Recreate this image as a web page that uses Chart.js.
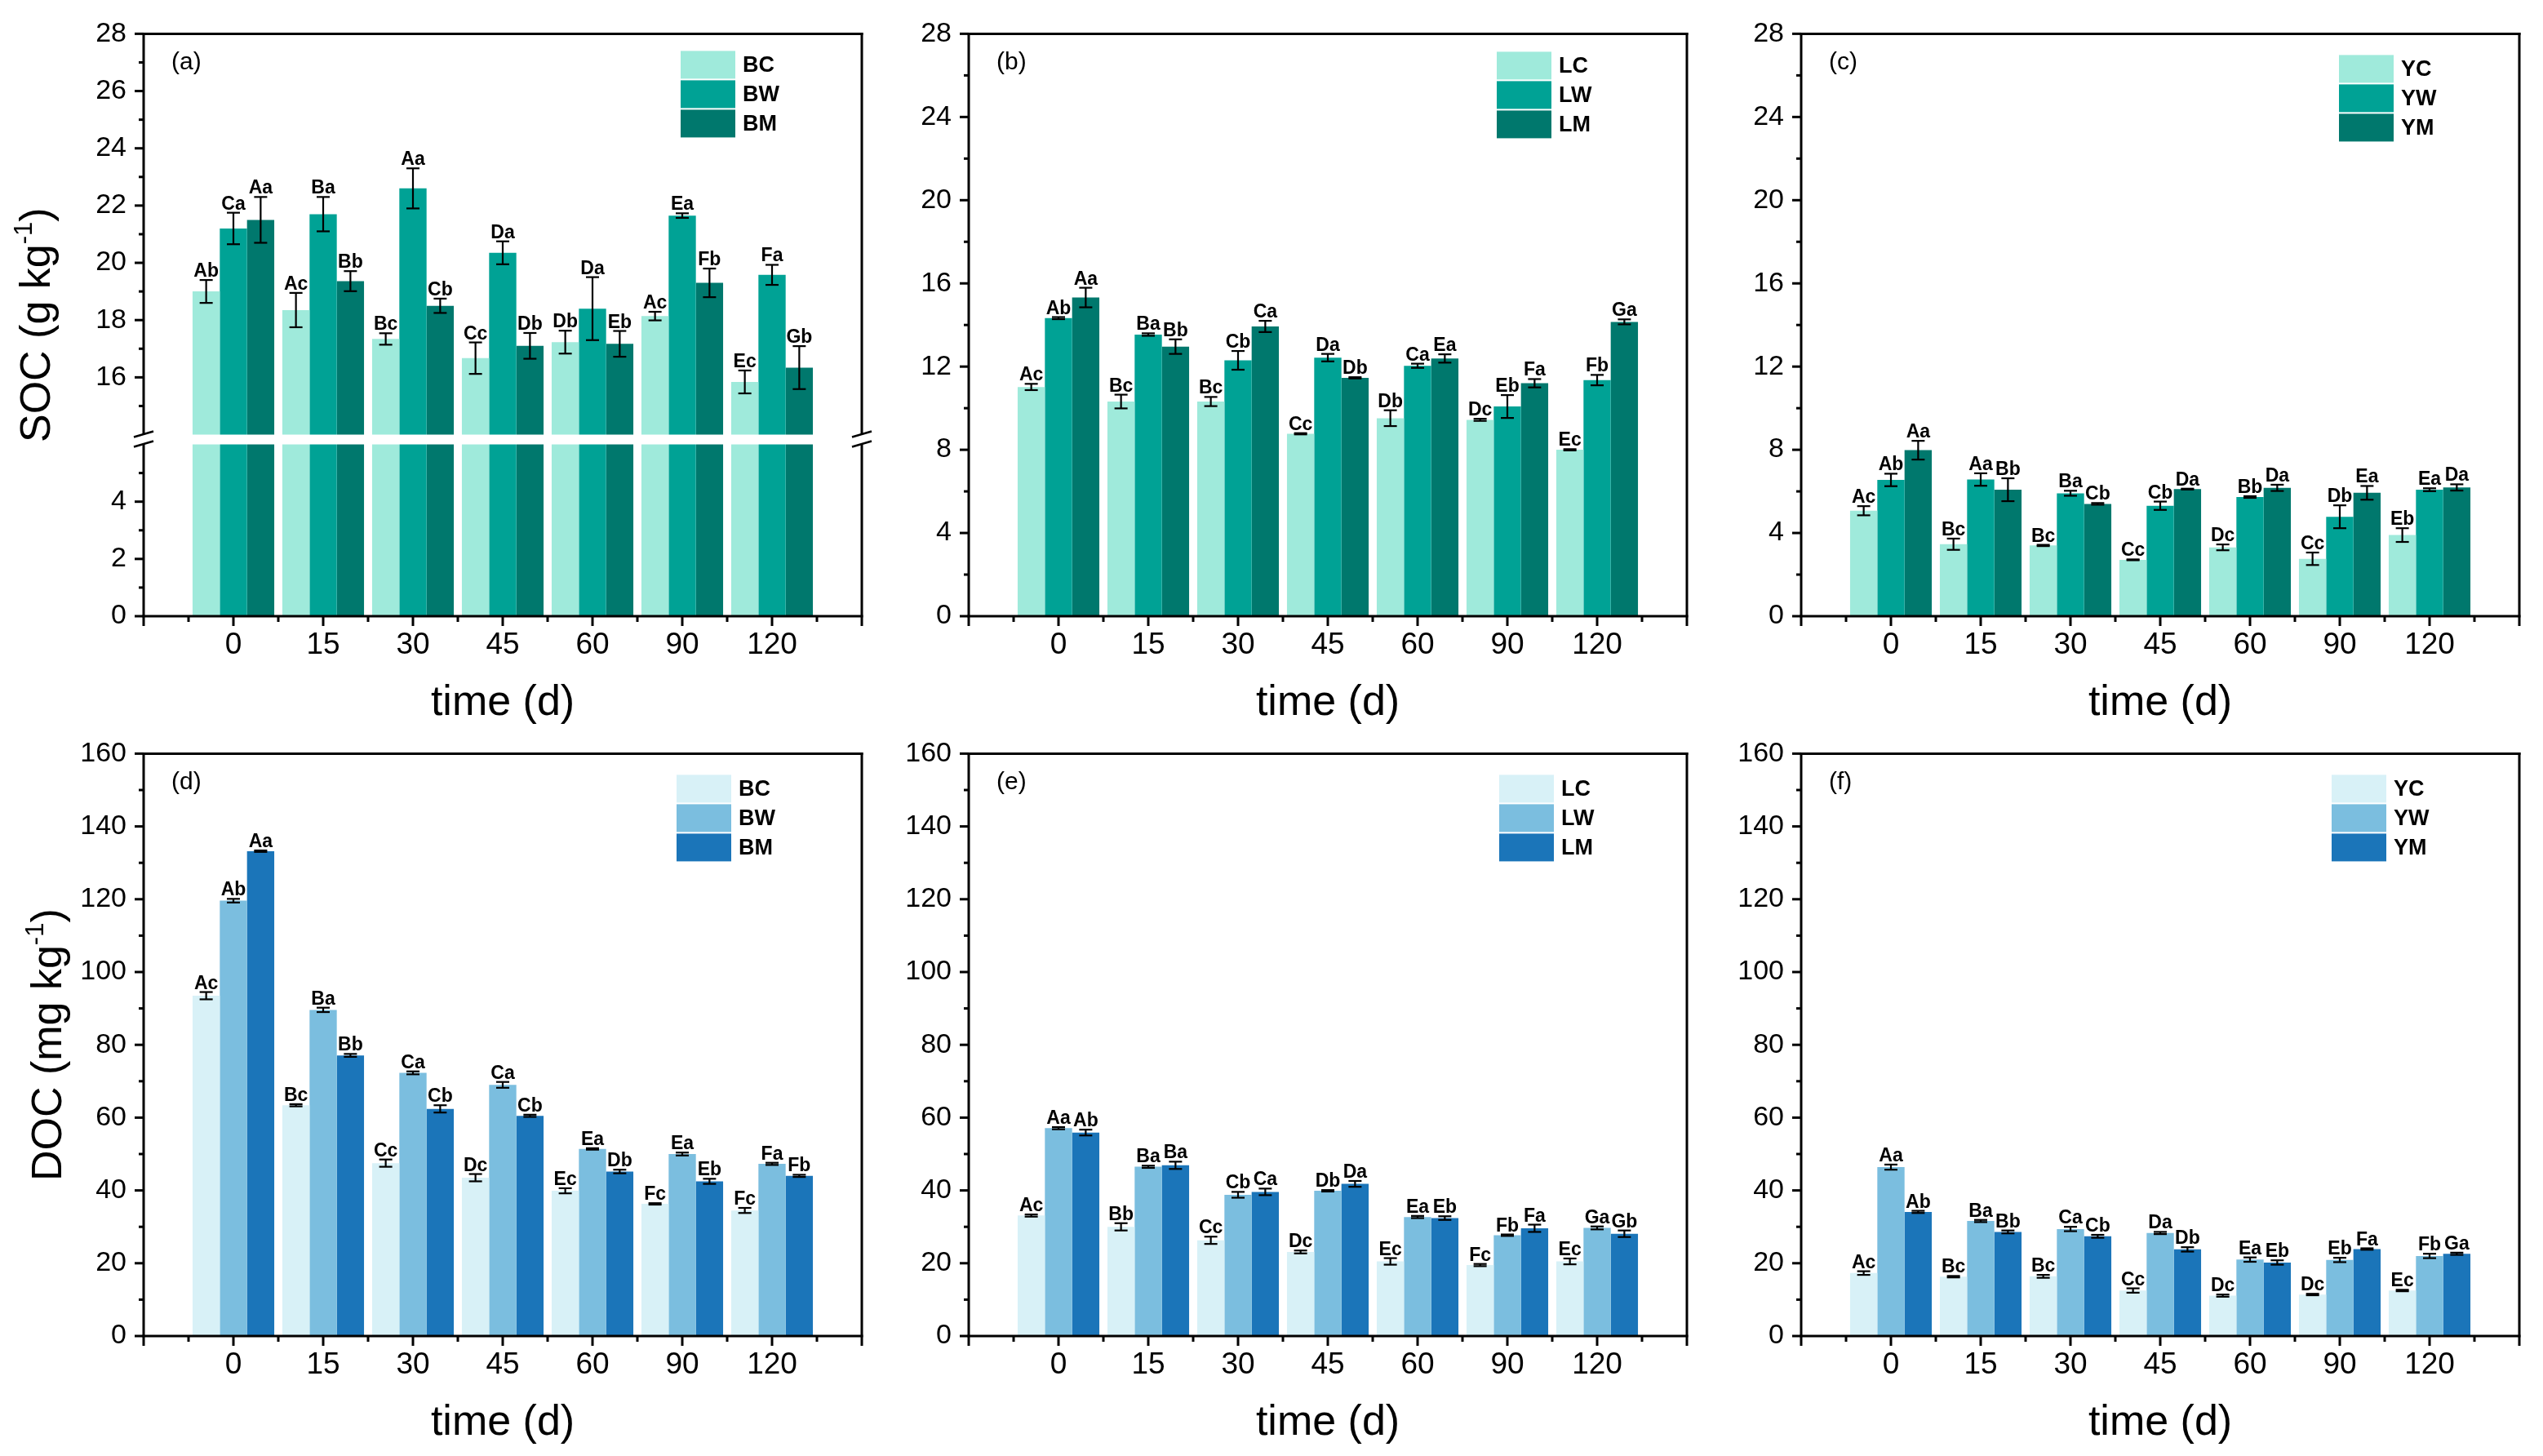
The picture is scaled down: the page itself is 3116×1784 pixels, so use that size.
<!DOCTYPE html>
<html>
<head>
<meta charset="utf-8">
<script src="https://cdn.jsdelivr.net/npm/chart.js@4/dist/chart.umd.min.js"></script>
<style>
  html, body { margin: 0; padding: 0; background: #fff; }
  body { width: 3116px; height: 1784px; position: relative; overflow: hidden; }
  canvas { position: absolute; }
</style>
</head>
<body>
<canvas id="pa" width="1070" height="900" style="left:0px;top:0px"></canvas>
<canvas id="pb" width="1070" height="900" style="left:1011px;top:0px"></canvas>
<canvas id="pc" width="1070" height="900" style="left:2031px;top:0px"></canvas>
<canvas id="pd" width="1070" height="900" style="left:0px;top:882px"></canvas>
<canvas id="pe" width="1070" height="900" style="left:1011px;top:882px"></canvas>
<canvas id="pf" width="1070" height="900" style="left:2031px;top:882px"></canvas>
<script>
// sampling days
const days = ['0', '15', '30', '45', '60', '90', '120'];

// SOC, B soil (g/kg)
const socBC = [19.0, 18.35, 17.34, 16.67, 17.23, 18.14, 15.84];
const socBCsd = [0.4, 0.6, 0.2, 0.55, 0.4, 0.15, 0.4];
const socBCsig = ['Ab', 'Ac', 'Bc', 'Cc', 'Db', 'Ac', 'Ec'];
const socBW = [21.2, 21.7, 22.6, 20.35, 18.4, 21.65, 19.58];
const socBWsd = [0.55, 0.6, 0.7, 0.4, 1.1, 0.08, 0.35];
const socBWsig = ['Ca', 'Ba', 'Aa', 'Da', 'Da', 'Ea', 'Fa'];
const socBM = [21.5, 19.36, 18.5, 17.1, 17.17, 19.3, 16.34];
const socBMsd = [0.8, 0.35, 0.25, 0.45, 0.45, 0.5, 0.75];
const socBMsig = ['Aa', 'Bb', 'Cb', 'Db', 'Eb', 'Fb', 'Gb'];

// SOC, L soil
const socLC = [11.02, 10.32, 10.32, 8.77, 9.52, 9.44, 8.0];
const socLCsd = [0.15, 0.33, 0.22, 0.03, 0.38, 0.05, 0.03];
const socLCsig = ['Ac', 'Bc', 'Bc', 'Cc', 'Db', 'Dc', 'Ec'];
const socLW = [14.33, 13.54, 12.3, 12.43, 12.04, 10.08, 11.35];
const socLWsd = [0.05, 0.06, 0.45, 0.18, 0.1, 0.55, 0.25];
const socLWsig = ['Ab', 'Ba', 'Cb', 'Da', 'Ca', 'Eb', 'Fb'];
const socLM = [15.32, 12.96, 13.93, 11.46, 12.39, 11.2, 14.15];
const socLMsd = [0.47, 0.35, 0.27, 0.03, 0.2, 0.2, 0.12];
const socLMsig = ['Aa', 'Bb', 'Ca', 'Db', 'Ea', 'Fa', 'Ga'];

// SOC, Y soil
const socYC = [5.07, 3.46, 3.40, 2.71, 3.31, 2.76, 3.9];
const socYCsd = [0.22, 0.27, 0.03, 0.02, 0.14, 0.3, 0.33];
const socYCsig = ['Ac', 'Bc', 'Bc', 'Cc', 'Dc', 'Cc', 'Eb'];
const socYW = [6.55, 6.57, 5.91, 5.31, 5.73, 4.78, 6.08];
const socYWsd = [0.3, 0.3, 0.12, 0.2, 0.04, 0.55, 0.07];
const socYWsig = ['Ab', 'Aa', 'Ba', 'Cb', 'Bb', 'Db', 'Ea'];
const socYM = [7.98, 6.08, 5.4, 6.11, 6.17, 5.93, 6.19];
const socYMsd = [0.45, 0.55, 0.04, 0.02, 0.15, 0.33, 0.15];
const socYMsig = ['Aa', 'Bb', 'Cb', 'Da', 'Da', 'Ea', 'Da'];

// DOC, B soil (mg/kg)
const docBC = [93.5, 63.4, 47.5, 43.5, 39.9, 36.3, 34.5];
const docBCsd = [1.0, 0.3, 1.0, 1.0, 0.7, 0.2, 0.7];
const docBCsig = ['Ac', 'Bc', 'Cc', 'Dc', 'Ec', 'Fc', 'Fc'];
const docBW = [119.6, 89.6, 72.3, 69.0, 51.4, 50.0, 47.3];
const docBWsd = [0.5, 0.6, 0.4, 0.8, 0.2, 0.4, 0.3];
const docBWsig = ['Ab', 'Ba', 'Ca', 'Ca', 'Ea', 'Ea', 'Fa'];
const docBM = [133.2, 77.1, 62.4, 60.5, 45.2, 42.5, 44.0];
const docBMsd = [0.2, 0.4, 1.0, 0.3, 0.5, 0.7, 0.3];
const docBMsig = ['Aa', 'Bb', 'Cb', 'Cb', 'Db', 'Eb', 'Fb'];

// DOC, L soil
const docLC = [33.1, 30.0, 26.3, 23.1, 20.5, 19.5, 20.5];
const docLCsd = [0.3, 1.0, 1.0, 0.4, 0.9, 0.3, 0.8];
const docLCsig = ['Ac', 'Bb', 'Cc', 'Dc', 'Ec', 'Fc', 'Ec'];
const docLW = [57.1, 46.5, 38.8, 39.9, 32.7, 27.7, 29.7];
const docLWsd = [0.3, 0.3, 0.8, 0.2, 0.3, 0.2, 0.4];
const docLWsig = ['Aa', 'Ba', 'Cb', 'Db', 'Ea', 'Fb', 'Ga'];
const docLM = [55.9, 46.9, 39.6, 41.8, 32.4, 29.6, 28.1];
const docLMsd = [0.8, 1.0, 0.9, 0.8, 0.5, 1.0, 0.9];
const docLMsig = ['Ab', 'Ba', 'Ca', 'Da', 'Eb', 'Fa', 'Gb'];

// DOC, Y soil
const docYC = [17.3, 16.3, 16.4, 12.5, 11.1, 11.4, 12.5];
const docYCsd = [0.5, 0.2, 0.4, 0.6, 0.3, 0.2, 0.2];
const docYCsig = ['Ac', 'Bc', 'Bc', 'Cc', 'Dc', 'Dc', 'Ec'];
const docYW = [46.4, 31.6, 29.4, 28.3, 21.0, 20.9, 22.0];
const docYWsd = [0.7, 0.3, 0.6, 0.3, 0.6, 0.6, 0.6];
const docYWsig = ['Aa', 'Ba', 'Ca', 'Da', 'Ea', 'Eb', 'Fb'];
const docYM = [34.1, 28.6, 27.4, 23.8, 20.2, 23.9, 22.6];
const docYMsd = [0.3, 0.4, 0.4, 0.6, 0.6, 0.2, 0.3];
const docYMsig = ['Ab', 'Bb', 'Cb', 'Db', 'Eb', 'Fa', 'Ga'];

// tick values
const socTicksA = [0, 2, 4, 16, 18, 20, 22, 24, 26, 28];
const socMinorA = [1, 3, 5, 15, 17, 19, 21, 23, 25, 27];
const socBreak = [6, 14];
const socTicks = [0, 4, 8, 12, 16, 20, 24, 28];
const socMinor = [2, 6, 10, 14, 18, 22, 26];
const docTicks = [0, 20, 40, 60, 80, 100, 120, 140, 160];
const docMinor = [10, 30, 50, 70, 90, 110, 130, 150];

const FONT = "'Liberation Sans', Arial, sans-serif";
const tealShades = ['#9feadb', '#00a295', '#00786d'];
const blueShades = ['#d8f1f7', '#7bbedf', '#1b75b9'];

// linear scale with a gap between socBreak[0] and socBreak[1]
const LinearScale = Chart.registry.getScale('linear');
class BrokenScale extends LinearScale {
    getPixelForValue(v) {
        const [lo, hi] = socBreak, gap = 12;
        const u = (this.height - gap) / (this.max - this.min - (hi - lo));
        let off;
        if (v <= lo) off = (v - this.min) * u;
        else if (v >= hi) off = (lo - this.min) * u + gap + (v - hi) * u;
        else off = (lo - this.min) * u + (v - lo) / (hi - lo) * gap;
        return this.bottom - off;
    }
}
BrokenScale.id = 'broken';
BrokenScale.defaults = LinearScale.defaults;
Chart.register(BrokenScale);

function line(ctx, x1, y1, x2, y2) {
    ctx.beginPath();
    ctx.moveTo(x1, y1);
    ctx.lineTo(x2, y2);
    ctx.stroke();
}

function decoPlugin(p) {
    return {
        id: 'deco',
        afterDatasetsDraw(chart) {
            const ctx = chart.ctx, y = chart.scales.y, area = chart.chartArea;
            ctx.save();
            if (p.broken) {
                const gT = y.getPixelForValue(socBreak[1]), gB = y.getPixelForValue(socBreak[0]);
                ctx.fillStyle = '#fff';
                ctx.fillRect(area.left + 2, gT, area.width - 4, gB - gT);
            }
            ctx.strokeStyle = '#000';
            ctx.lineWidth = 2.2;
            ctx.font = 'bold 23px ' + FONT;
            ctx.textAlign = 'center';
            ctx.textBaseline = 'alphabetic';
            chart.data.datasets.forEach((ds, i) => {
                chart.getDatasetMeta(i).data.forEach((bar, j) => {
                    const v = ds.data[j];
                    if (v == null) return;
                    const e = ds.errors[j];
                    const yt = y.getPixelForValue(v + e), yb = y.getPixelForValue(v - e);
                    line(ctx, bar.x, yt, bar.x, yb);
                    line(ctx, bar.x - 8, yt, bar.x + 8, yt);
                    line(ctx, bar.x - 8, yb, bar.x + 8, yb);
                    ctx.fillStyle = '#000';
                    ctx.fillText(ds.sig[j], bar.x, yt - 4);
                });
            });
            ctx.restore();
        },
        afterDraw(chart) {
            const ctx = chart.ctx, x = chart.scales.x, y = chart.scales.y;
            const {left, right, top, bottom} = chart.chartArea;
            ctx.save();
            ctx.strokeStyle = '#000';
            ctx.lineWidth = 3;
            line(ctx, left - 1.5, top, right + 1.5, top);
            line(ctx, left - 1.5, bottom, right + 1.5, bottom);
            if (p.broken) {
                const gT = y.getPixelForValue(socBreak[1]), gB = y.getPixelForValue(socBreak[0]);
                [left, right].forEach(ax => {
                    line(ctx, ax, top - 1.5, ax, gT);
                    line(ctx, ax, gB, ax, bottom);
                    ctx.lineWidth = 2.5;
                    line(ctx, ax - 12, gT + 3, ax + 12, gT - 4);
                    line(ctx, ax - 12, gB + 3, ax + 12, gB - 4);
                    ctx.lineWidth = 3;
                });
            } else {
                line(ctx, left, top - 1.5, left, bottom);
                line(ctx, right, top - 1.5, right, bottom);
            }
            // x ticks: major at categories, minor halfway
            for (let i = 0; i < chart.data.labels.length; i++) {
                const px = x.getPixelForValue(i);
                line(ctx, px, bottom, px, bottom + 12);
                if (i < chart.data.labels.length - 1) {
                    const mx = x.getPixelForValue(i + 0.5);
                    line(ctx, mx, bottom, mx, bottom + 7);
                }
            }
            // y ticks outward
            p.ticks.forEach(v => { const py = y.getPixelForValue(v); line(ctx, left - 11, py, left, py); });
            p.minor.forEach(v => { const py = y.getPixelForValue(v); line(ctx, left - 6, py, left, py); });

            // legend
            ctx.font = 'bold 27px ' + FONT;
            ctx.textAlign = 'left';
            ctx.textBaseline = 'middle';
            chart.data.datasets.forEach((ds, i) => {
                const bx = right - p.legendRight, by = top + p.legendTop + i * 36;
                ctx.fillStyle = ds.backgroundColor;
                ctx.fillRect(bx, by, 67, 34);
                ctx.fillStyle = '#000';
                ctx.fillText(ds.label, bx + 76, by + 18);
            });

            // panel tag
            ctx.font = '30px ' + FONT;
            ctx.fillText(p.tag, left + 34, top + 35);

            // y title with superscript
            if (p.yTitle) {
                ctx.translate(p.yTitleX, (top + bottom) / 2);
                ctx.rotate(-Math.PI / 2);
                ctx.textBaseline = 'alphabetic';
                const main = p.yTitle, sup = '-1', tail = ')';
                ctx.font = '52px ' + FONT;
                const w1 = ctx.measureText(main).width, w3 = ctx.measureText(tail).width;
                ctx.font = '31px ' + FONT;
                const w2 = ctx.measureText(sup).width;
                let sx = -(w1 + w2 + w3) / 2;
                ctx.font = '52px ' + FONT;
                ctx.fillText(main, sx, 14);
                ctx.font = '31px ' + FONT;
                ctx.fillText(sup, sx + w1, -8);
                ctx.font = '52px ' + FONT;
                ctx.fillText(tail, sx + w1 + w2, 14);
            }
            ctx.restore();
        }
    };
}

function buildPanel(p) {
    const pad = a => [null, ...a, null];
    const datasets = p.series.map((s, i) => ({
        label: s.name,
        data: pad(s.values),
        errors: pad(s.sd),
        sig: pad(s.sig),
        backgroundColor: p.colors[i],
        borderWidth: 0,
        categoryPercentage: 0.91,
        barPercentage: 1
    }));
    return new Chart(document.getElementById(p.id), {
        type: 'bar',
        data: {labels: ['', ...days, ''], datasets},
        options: {
            responsive: false,
            animation: false,
            devicePixelRatio: 1,
            events: [],
            layout: {padding: {left: 0, top: 34, right: 12, bottom: 0}},
            plugins: {legend: {display: false}, tooltip: {enabled: false}},
            scales: {
                x: {
                    type: 'category',
                    offset: false,
                    grid: {display: false, drawTicks: false},
                    border: {display: false},
                    ticks: {autoSkip: false, maxRotation: 0, padding: 14, color: '#000', font: {family: FONT, size: 37}},
                    title: {display: true, text: 'time (d)', color: '#000', font: {family: FONT, size: 52}, padding: {top: 0, bottom: 7}},
                    afterFit: s => { s.height = 145; }
                },
                y: {
                    type: p.broken ? 'broken' : 'linear',
                    min: p.min,
                    max: p.max,
                    grid: {display: false, drawTicks: false},
                    border: {display: false},
                    ticks: {padding: 21, color: '#000', font: {family: FONT, size: 34}},
                    afterBuildTicks: s => { s.ticks = p.ticks.map(v => ({value: v})); },
                    afterFit: s => { s.width = 176; }
                }
            }
        },
        plugins: [decoPlugin(p)]
    });
}

const ser = (name, values, sd, sig) => ({name, values, sd, sig});

buildPanel({id: 'pa', tag: '(a)', broken: true, min: 0, max: 28, ticks: socTicksA, minor: socMinorA,
    colors: tealShades, legendRight: 222, legendTop: 21, yTitle: 'SOC (g kg', yTitleX: 47,
    series: [ser('BC', socBC, socBCsd, socBCsig), ser('BW', socBW, socBWsd, socBWsig), ser('BM', socBM, socBMsd, socBMsig)]});
buildPanel({id: 'pb', tag: '(b)', min: 0, max: 28, ticks: socTicks, minor: socMinor,
    colors: tealShades, legendRight: 233, legendTop: 22,
    series: [ser('LC', socLC, socLCsd, socLCsig), ser('LW', socLW, socLWsd, socLWsig), ser('LM', socLM, socLMsd, socLMsig)]});
buildPanel({id: 'pc', tag: '(c)', min: 0, max: 28, ticks: socTicks, minor: socMinor,
    colors: tealShades, legendRight: 221, legendTop: 26,
    series: [ser('YC', socYC, socYCsd, socYCsig), ser('YW', socYW, socYWsd, socYWsig), ser('YM', socYM, socYMsd, socYMsig)]});
buildPanel({id: 'pd', tag: '(d)', min: 0, max: 160, ticks: docTicks, minor: docMinor,
    colors: blueShades, legendRight: 227, legendTop: 26, yTitle: 'DOC (mg kg', yTitleX: 61,
    series: [ser('BC', docBC, docBCsd, docBCsig), ser('BW', docBW, docBWsd, docBWsig), ser('BM', docBM, docBMsd, docBMsig)]});
buildPanel({id: 'pe', tag: '(e)', min: 0, max: 160, ticks: docTicks, minor: docMinor,
    colors: blueShades, legendRight: 230, legendTop: 26,
    series: [ser('LC', docLC, docLCsd, docLCsig), ser('LW', docLW, docLWsd, docLWsig), ser('LM', docLM, docLMsd, docLMsig)]});
buildPanel({id: 'pf', tag: '(f)', min: 0, max: 160, ticks: docTicks, minor: docMinor,
    colors: blueShades, legendRight: 230, legendTop: 26,
    series: [ser('YC', docYC, docYCsd, docYCsig), ser('YW', docYW, docYWsd, docYWsig), ser('YM', docYM, docYMsd, docYMsig)]});
</script>
</body>
</html>
